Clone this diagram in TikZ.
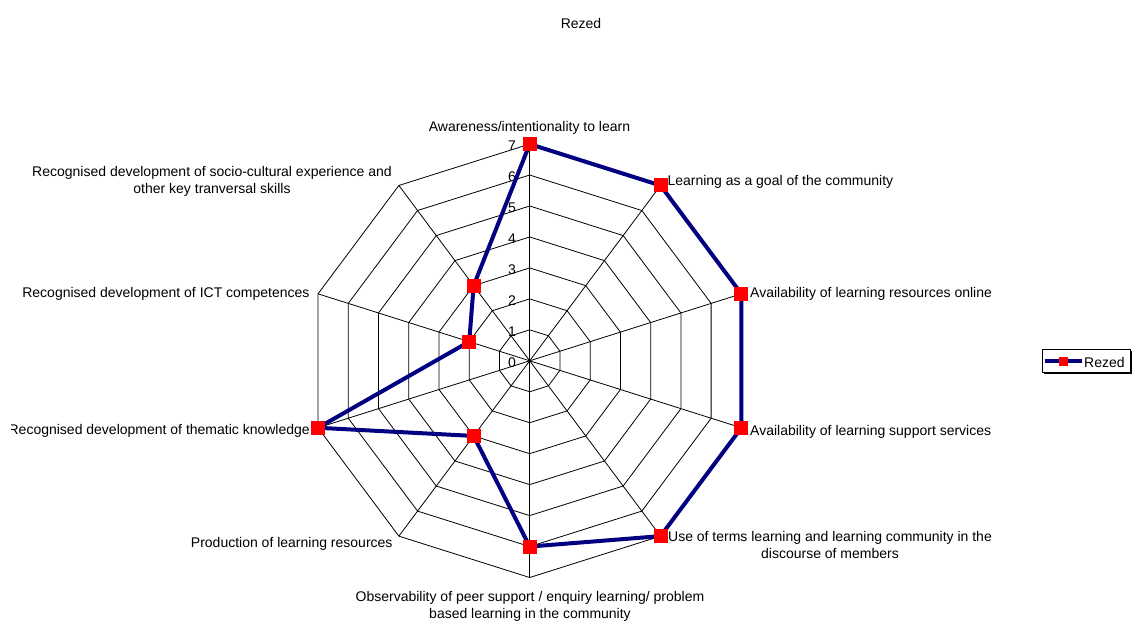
\documentclass[tikz,border=0pt]{standalone}
\usepackage{fontspec}
\setmainfont{Liberation Sans}
\definecolor{navy}{RGB}{0,0,128}
\begin{document}
\begin{tikzpicture}[x=1pt,y=-1pt,
  lbl/.style={font=\fontsize{14}{17.2}\selectfont, inner sep=0pt, align=center, yshift=-1.5pt},
  gridline/.style={draw=black, line width=0.8pt},
  series/.style={draw=navy, line width=4pt, line join=miter},
  marker/.style={fill=red, draw=none, minimum size=14pt, inner sep=0pt, rectangle},
  legmarker/.style={fill=red, draw=none, minimum size=9pt, inner sep=0pt, rectangle},
]
\useasboundingbox (0,0) rectangle (1136,624);
\def\cx{529.7}
\def\cy{360.8}
\def\u{30.96}
\def\sx{1.027}
\coordinate (c) at (\cx,\cy);
% grid decagons
\foreach \l in {1,...,7}{
  \draw[gridline] ({\cx},{\cy-\l*\u})
    \foreach \k in {1,...,9}{ -- ({\cx+\sx*\l*\u*sin(36*\k)},{\cy-\l*\u*cos(36*\k)}) } -- cycle;
}
% spokes
\foreach \k in {0,...,9}{
  \coordinate (a\k) at ({\cx+\sx*7*\u*sin(36*\k)},{\cy-7*\u*cos(36*\k)});
  \draw[gridline] (c) -- (a\k);
}
% tick labels
\foreach \l in {0,...,7}{
  \node[lbl, anchor=east] (t\l) at (516,{\cy-\l*\u}) {\l};
}
% data
\foreach \k/\v in {0/7,1/7,2/7,3/7,4/7,5/6,6/3,7/7,8/2,9/3}{
  \coordinate (d\k) at ({\cx+\sx*\v*\u*sin(36*\k)},{\cy-\v*\u*cos(36*\k)});
}
\draw[series] (d0) -- (d1) -- (d2) -- (d3) -- (d4) -- (d5) -- (d6) -- (d7) -- (d8) -- (d9) -- cycle;
\foreach \k in {0,...,9}{
  \node[marker] (p\k) at (d\k) {};
}
% axis labels
\node[lbl] (l0) at (529.5,126.7) {Awareness/intentionality to learn};
\node[lbl, anchor=west] (l1) at (667.3,180.7) {Learning as a goal of the community};
\node[lbl, anchor=west] (l2) at (750,292.7) {Availability of learning resources online};
\node[lbl, anchor=west] (l3) at (750,430) {Availability of learning support services};
\node[lbl] (l4) at (830,543.3) {Use of terms learning and learning community in the\\discourse of members};
\node[lbl] (l5) at (530,605) {Observability of peer support / enquiry learning/ problem\\based learning in the community};
\node[lbl, anchor=east] (l6) at (392.7,542.7) {Production of learning resources};
\begin{scope}
  \clip (11.7,380) rectangle (400,480);
  \node[lbl, anchor=east] (l7) at (310,429.5) {Recognised development of thematic knowledge};
\end{scope}
\node[lbl, anchor=east] (l8) at (309.7,292.7) {Recognised development of ICT competences};
\node[lbl] (l9) at (212,180) {Recognised development of socio-cultural experience and\\other key tranversal skills};
% title
\node[lbl] (title) at (581,21.7) {Rezed};
% legend
\draw[black, line width=1.6pt] (1044.2,373.5) -- (1131.5,373.5) -- (1131.5,350.8);
\node[draw=black, line width=0.8pt, minimum width=88pt, minimum height=23.4pt, inner sep=0pt] (legend) at (1086.7,361) {};
\coordinate (ls) at (1045,361);
\coordinate (le) at (1081.7,361);
\draw[series] (ls) -- (le);
\node[legmarker] (lm) at (1063.3,361) {};
\node[lbl, anchor=west] (lt) at (1084,361) {Rezed};
\end{tikzpicture}
\end{document}
